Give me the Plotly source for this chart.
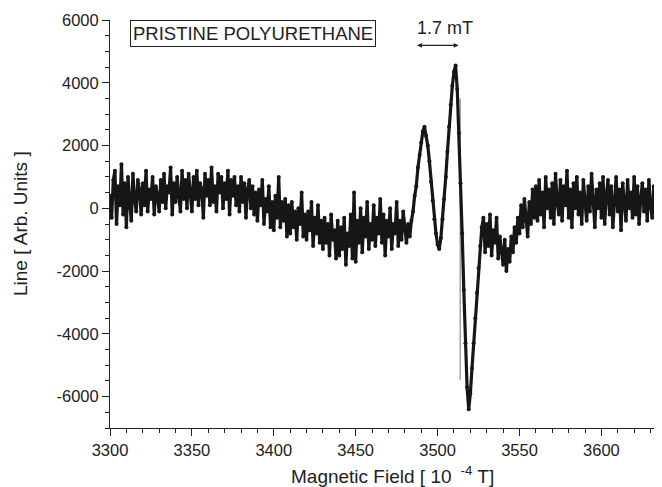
import plotly.graph_objects as go

# EPR line, one reading per 10^-4 T, starting at 3300
field_start = 3300
signal = [
    400, -300, 900, 1200, -500, 700, 100, 1400, -200, 800,
    -600, 1000, 200, -400, 1100, 300, -100, 900, 600, -200,
    800, 100, 1200, -100, 600, 300, 1000, -200, 700, 400,
    -100, 900, 200, 1100, 0, 700, 500, 1300, -200, 800,
    200, 1000, 400, -100, 1200, 300, 900, 0, 1100, 500,
    -100, 1000, 300, 1200, 100, 800, 600, -300, 1100, 400,
    900, 100, 1300, 200, 700, -100, 1100, 500, 1000, 0,
    800, 300, 1200, -200, 900, 400, 1000, 100, 700, -100,
    1000, 200, 800, -300, 600, 900, 0, 700, -200, 500,
    -400, 600, 100, 900, -500, 300, -100, 700, -600, 200,
    -700, 400, -300, 1000, -600, 200, -400, 300, -900, 100,
    -800, 200, -600, -100, -1000, 0, -500, 500, -900, -200,
    -1000, -100, -700, 200, -1200, -300, -800, 100, -1100, -400,
    -1300, -300, -1100, -500, -1500, -200, -1000, -700, -1600, -400,
    -1500, -600, -1300, -300, -1800, -800, -1200, -200, -1600, 500,
    -1700, -400, -1100, 0, -1400, -300, -900, 200, -1300, -500,
    -1000, 100, -1200, -300, -800, 300, -1100, -200, -1500, -400,
    -900, 0, -1300, -500, -800, 200, -1200, -400, -1000, -100,
    -700, -1100, -500, -900, -400, -100, 400, 700, 1300, 1700,
    2100, 2450, 2600, 2300, 2000, 1500, 850, 250, -350, -800,
    -1150, -1300, -950, -350, 300, 1000, 1800, 2600, 3300, 3900,
    4350, 4550, 3800, 2400, 800, -800, -2600, -4300, -5700, -6400,
    -5900, -5100, -4300, -3500, -2700, -1900, -1200, -600, -300, -1400,
    -500, -1200, -200, -1500, -700, -1100, -300, -1600, -900, -1300,
    -1800, -1000, -2000, -1300, -1700, -900, -1400, -600, -1100, -300,
    -800, 100, -600, 300, -400, -900, 200, -500, 600, -300,
    700, -400, 900, -200, 500, -600, 1000, 0, 600, -300,
    800, -500, 1100, 200, -200, 900, -400, 700, 100, 1200,
    -300, 600, -600, 800, 0, 1000, -200, 500, -500, 900,
    200, -400, 700, -100, 1100, 300, -600, 600, 0, 800,
    -300, 1000, -500, 400, 900, -200, 700, -600, 300, 1000,
    -100, 600, -700, 800, 200, -400, 900, 0, 500, -300,
    1000, -200, 700, -500, 300, 800, -100, 600, -400, 900,
    100, -300, 700, 200, -200, 800, 0,
]
field = [field_start + i for i in range(len(signal))]

y_ticks = [-6000, -4000, -2000, 0, 2000, 4000, 6000]
y_labels = ["-6000", "-4000", "-2000", "0", "2000", "4000", "6000"]

# marked line width (1.7 mT) and the gray guide line
width_from, width_to, width_level = 3486.6, 3512.8, 5190
guide_x, guide_bottom, guide_top = 3513.8, -5460, 3500

font = "Liberation Sans, Arial, sans-serif"

fig = go.Figure()
fig.add_trace(go.Scatter(
    x=field, y=signal, mode="lines+markers",
    line=dict(color="#161616", width=3.2),
    marker=dict(color="#161616", size=4),
    showlegend=False, hoverinfo="skip"))

fig.add_shape(type="line", x0=guide_x, x1=guide_x, y0=guide_bottom, y1=guide_top,
              line=dict(color="#8c8c8c", width=1.2), layer="below")

fig.add_annotation(x=3387.6, y=5557, xref="x", yref="y", text="PRISTINE POLYURETHANE",
                   showarrow=False, font=dict(family=font, size=18.5, color="#222"),
                   bordercolor="#222", borderwidth=1, borderpad=2, bgcolor="white")
fig.add_annotation(x=3504.5, y=5733, xref="x", yref="y", text="1.7 mT",
                   showarrow=False, font=dict(family=font, size=18, color="#222"))
fig.add_annotation(x=width_to, y=width_level, ax=width_from, ay=width_level,
                   xref="x", yref="y", axref="x", ayref="y", text="",
                   showarrow=True, arrowhead=2, arrowside="end+start",
                   arrowsize=0.8, arrowwidth=1.2, arrowcolor="#222")

fig.add_annotation(x=(20 - 110) / 552, y=0.5, xref="paper", yref="paper",
                   xanchor="center", yanchor="middle",
                   text="Line [ Arb. Units ]", textangle=-90, showarrow=False,
                   font=dict(family=font, size=19, color="#222"))
fig.add_annotation(x=(393 - 110) / 552, y=(428 - 475) / 408, xref="paper", yref="paper",
                   xanchor="center", yanchor="middle",
                   text="Magnetic Field [ 10 <sup> -4</sup> T]", showarrow=False,
                   font=dict(family=font, size=19, color="#222"))

# page body adds an 8px margin, so the figure is 8px smaller on each side
fig.update_layout(
    width=654, height=479,
    margin=dict(l=102, r=0, t=12, b=59, autoexpand=False),
    paper_bgcolor="white", plot_bgcolor="white",
    font=dict(family=font, size=16.5, color="#222"),
    xaxis=dict(range=[3300, 3637], dtick=50, tick0=3300, automargin=False,
               showline=True, linecolor="#222", linewidth=1,
               ticks="outside", ticklen=7, tickcolor="#222",
               minor=dict(dtick=10, ticks="outside", ticklen=4, tickcolor="#222"),
               showgrid=False, zeroline=False, tickfont=dict(size=16.5)),
    yaxis=dict(range=[-7000, 6000], tickvals=y_ticks, ticktext=y_labels, automargin=False,
               showline=True, linecolor="#222", linewidth=1,
               ticks="outside", ticklen=7, tickcolor="#222",
               minor=dict(dtick=500, tick0=0, ticks="outside", ticklen=4, tickcolor="#222"),
               showgrid=False, zeroline=False, tickfont=dict(size=16.5)),
)

fig.write_html("out.html")
